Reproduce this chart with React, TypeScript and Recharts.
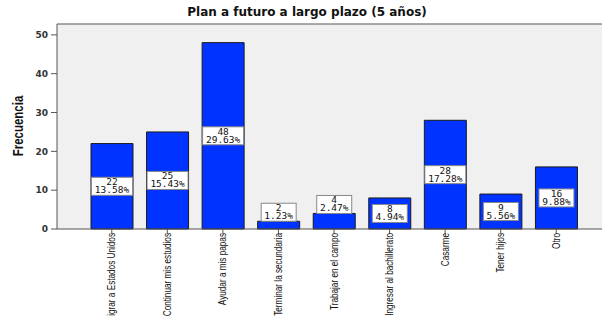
import { Bar, BarChart, CartesianGrid, LabelList, ReferenceLine, XAxis, YAxis } from "recharts";

const categories = [
  "Migrar a Estados Unidos",
  "Continuar mis estudios",
  "Ayudar a mis papas",
  "Terminar la secundaria",
  "Trabajar en el campo",
  "Ingresar al bachillerato",
  "Casarme",
  "Tener hijos",
  "Otro",
];
const frequencies = [22, 25, 48, 2, 4, 8, 28, 9, 16];
const percents = ["13.58%", "15.43%", "29.63%", "1.23%", "2.47%", "4.94%", "17.28%", "5.56%", "9.88%"];
const yTicks = [0, 10, 20, 30, 40, 50];

const rows = categories.map((name, i) => ({ name, freq: frequencies[i] }));

const AXIS = "#555";
const Y_MAX = 52.8;
const NARROW = "'Liberation Sans', Arial, sans-serif";

function CategoryTick(props: any) {
  const { x, y, payload } = props;
  const top = y - 3;
  // condensed look: squash along the text direction, then turn upright
  return (
    <text
      x={0}
      y={0}
      transform={`translate(${x}, ${top}) rotate(-90) scale(0.82, 1)`}
      textAnchor="end"
      dy="0.35em"
      fontFamily={NARROW}
      fontSize={10}
      fill="#111"
    >
      {payload.value}
    </text>
  );
}

function ValueBox(props: any) {
  const { x, y, width, height, index, value } = props;
  const pct = percents[index];
  const chars = Math.max(String(value).length, pct.length);
  const bw = chars * 6 + 5;
  const bh = 18;
  const cx = x + width / 2;
  const top = height < 22 ? y - bh : y + height / 2 - bh / 2;
  const font = { fontFamily: "'DejaVu Sans Mono', monospace", fontSize: 9.5, fill: "#111" };
  return (
    <g>
      <rect x={cx - bw / 2} y={top} width={bw} height={bh} fill="#fff" stroke="#888" strokeWidth={1} />
      <text x={cx} y={top + 8} textAnchor="middle" {...font}>
        {value}
      </text>
      <text x={cx} y={top + 16} textAnchor="middle" {...font}>
        {pct}
      </text>
    </g>
  );
}

export default function App() {
  return (
    <div style={{ position: "absolute", left: 0, top: 0, width: 602, height: 316, background: "#fff" }}>
      <div
        style={{
          position: "absolute",
          left: 0,
          width: 614,
          top: 5,
          textAlign: "center",
          fontFamily: "'DejaVu Sans', sans-serif",
          fontWeight: "bold",
          fontSize: 12,
          color: "#111",
        }}
      >
        Plan a futuro a largo plazo (5 años)
      </div>
      <BarChart width={602} height={316} data={rows} margin={{ top: 24, right: 0, bottom: 0, left: 0 }}>
        <CartesianGrid fill="#f0f0f0" horizontal={false} vertical={false} />
        <XAxis
          dataKey="name"
          interval={0}
          padding={{ left: 27, right: 18 }}
          stroke={AXIS}
          tickLine={{ stroke: AXIS }}
          tickSize={5}
          tick={<CategoryTick />}
          height={87}
        />
        <YAxis
          domain={[0, Y_MAX]}
          ticks={yTicks}
          width={57}
          stroke={AXIS}
          tickSize={6}
          tickMargin={3}
          tick={{ fontFamily: "'DejaVu Sans', sans-serif", fontSize: 9, fill: "#333", fontWeight: "bold" }}
          label={{
            content: () => (
              <text
                x={0}
                y={0}
                transform="translate(23, 126) rotate(-90) scale(0.82, 1)"
                textAnchor="middle"
                fontFamily={NARROW}
                fontWeight="bold"
                fontSize={14}
                fill="#111"
              >
                Frecuencia
              </text>
            ),
          }}
        />
        <ReferenceLine y={Y_MAX} stroke={AXIS} strokeWidth={1} />
        <Bar dataKey="freq" fill="#0033ff" stroke="#1a1a1a" strokeWidth={1} barSize={42} isAnimationActive={false}>
          <LabelList dataKey="freq" content={<ValueBox />} />
        </Bar>
      </BarChart>
    </div>
  );
}
